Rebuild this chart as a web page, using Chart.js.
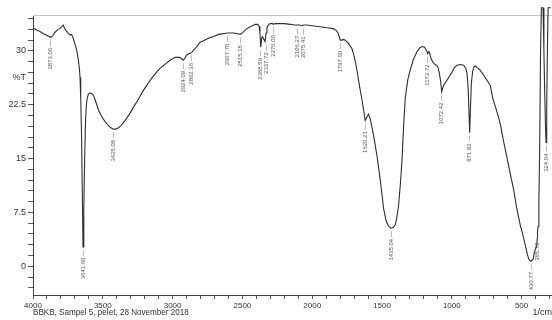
<!DOCTYPE html>
<html>
<head>
<meta charset="utf-8">
<script src="https://cdn.jsdelivr.net/npm/chart.js@4"></script>
<style>
  body { margin: 0; background: #fff; }
  #wrap { width: 552px; height: 320px; }
</style>
</head>
<body>
<div id="wrap"><canvas id="irChart"></canvas></div>
<script>
// FTIR spectrum, wavenumber (1/cm) vs %T
const wavenumbers = [
  4000, 3975, 3950, 3925, 3905, 3885, 3873.06, 3860, 3842, 3820, 3800, 3790, 3783, 3775, 3766, 3750,
  3735, 3723, 3711, 3700, 3692, 3683, 3675, 3668, 3663, 3658, 3652, 3646, 3641.6, 3636, 3630, 3624,
  3618, 3611, 3603, 3596, 3584, 3572, 3563, 3555, 3543, 3532, 3515, 3496, 3478, 3460, 3442, 3425.08,
  3405, 3388, 3370, 3353, 3330, 3305, 3280, 3256, 3230, 3209, 3185, 3161, 3125, 3089, 3050, 3018,
  2982, 2950, 2935, 2924.09, 2912, 2900, 2886, 2870, 2862.36, 2850, 2826, 2803, 2779, 2740, 2707, 2670,
  2636, 2607.7, 2587, 2560, 2535, 2515.18, 2500, 2485, 2468, 2440, 2408, 2390, 2380, 2374, 2368.59, 2362,
  2355, 2348, 2337.72, 2330, 2324, 2310, 2301, 2285, 2276, 2265, 2240, 2200, 2157, 2130, 2106.27, 2090,
  2075.41, 2060, 2038, 2000, 1960, 1920, 1880, 1850, 1830, 1815, 1805, 1797.6, 1787, 1775, 1763, 1751,
  1735, 1715, 1700, 1690, 1679, 1660, 1643, 1632, 1620.21, 1610, 1597, 1585, 1572, 1560, 1548, 1536,
  1524, 1512, 1500, 1488, 1470, 1453, 1435.04, 1420, 1404, 1392, 1381, 1368, 1356, 1345, 1333, 1315,
  1297, 1275, 1249, 1230, 1213, 1195, 1180, 1172.72, 1165, 1158, 1150, 1135, 1118, 1100, 1090, 1080,
  1072.42, 1062, 1050, 1035, 1022, 1000, 980, 962, 940, 915, 900, 890, 882, 876, 871.82, 866,
  860, 850, 840, 830, 819, 800, 785, 771, 755, 740, 723, 705, 687, 670, 652, 630,
  604, 580, 556, 538, 520, 508, 496, 484, 472, 460, 449, 440, 430.77, 423, 417, 408,
  400, 392, 387, 385.7, 382, 376, 370, 364, 358, 352, 346, 340, 334, 328, 324.04, 320,
  315, 310, 300, 290
];
const transmittance = [
  33.2, 32.9, 32.7, 32.4, 32.2, 32.0, 31.9, 32.1, 32.6, 33.0, 33.2, 33.5, 33.6, 33.2, 32.9, 32.5,
  32.2, 32.3, 31.7, 31.0, 30.5, 29.7, 28.7, 27.6, 26.3, 23.5, 18.0, 9.0, 2.7, 8.0, 15.0, 20.0,
  22.5, 23.5, 24.0, 24.1, 24.1, 23.9, 23.6, 23.2, 22.5, 21.8, 21.1, 20.5, 20.0, 19.6, 19.3, 19.1,
  19.1, 19.3, 19.6, 20.0, 20.6, 21.3, 22.2, 22.9, 23.8, 24.5, 25.2, 25.9, 26.8, 27.6, 28.2, 28.7,
  29.1, 29.1, 28.9, 28.7, 29.0, 29.4, 29.6, 29.7, 29.8, 30.1, 30.6, 31.2, 31.4, 31.8, 32.0, 32.3,
  32.4, 32.5, 32.5, 32.5, 32.4, 32.3, 32.5, 32.8, 33.1, 33.4, 33.7, 33.7, 33.4, 32.5, 30.5, 31.8,
  32.0, 31.7, 31.3, 32.5, 33.3, 33.7, 33.8, 33.8, 33.7, 33.8, 33.8, 33.8, 33.7, 33.6, 33.6, 33.6,
  33.5, 33.6, 33.6, 33.5, 33.4, 33.3, 33.2, 33.1, 32.9, 32.5, 31.9, 31.5, 31.5, 31.6, 31.5, 31.3,
  30.9, 30.3, 29.3, 28.4, 27.3, 25.0, 23.2, 21.8, 20.3, 20.7, 21.2, 20.6, 19.4, 18.2, 16.8, 15.4,
  13.7, 12.0, 10.0, 8.0, 6.3, 5.6, 5.3, 5.4, 5.8, 7.0, 8.5, 11.5, 15.0, 19.5, 23.5, 26.0,
  27.4, 28.8, 29.9, 30.4, 30.6, 30.5, 30.0, 29.6, 29.9, 29.7, 29.0, 28.4, 28.1, 27.8, 27.0, 25.8,
  24.3, 25.0, 25.5, 25.9, 26.3, 27.0, 27.7, 28.0, 28.1, 28.0, 27.6, 26.8, 24.5, 21.0, 18.6, 22.0,
  25.5, 27.2, 27.8, 27.9, 27.7, 27.4, 27.0, 26.6, 26.1, 25.7, 25.1, 23.3, 22.2, 21.1, 19.8, 17.5,
  15.1, 12.8, 10.6, 8.4, 6.7, 5.6, 4.8, 3.8, 2.8, 1.8, 1.0, 0.8, 0.7, 0.9, 1.0, 2.0,
  2.4, 2.8, 4.0, 4.8, 5.5, 9.0, 17.0, 30.0, 36.0, 36.0, 36.0, 30.0, 24.0, 19.0, 17.2, 22.0,
  30.0, 36.0, 36.0, 36.0
];
const peakLabels = [
  3873.06, 3641.60, 3425.08, 2924.09, 2862.36, 2607.70, 2515.18, 2368.59, 2337.72, 2276.00,
  2106.27, 2075.41, 1797.60, 1620.21, 1435.04, 1172.72, 1072.42, 871.82, 430.77, 385.70, 324.04
];
const xTickLabels = [4000, 3500, 3000, 2500, 2000, 1500, 1000, 500];
const yTickLabels = [0, 7.5, 15, 22.5, 30];

const FONT = "'Liberation Sans', Arial, sans-serif";
const INK = '#333';

function valueAt(wn) {
  for (let i = 0; i < wavenumbers.length - 1; i++) {
    const a = wavenumbers[i], b = wavenumbers[i + 1];
    if (wn <= a && wn >= b) {
      const t = (a - wn) / (a - b);
      return transmittance[i] + t * (transmittance[i + 1] - transmittance[i]);
    }
  }
  return transmittance[transmittance.length - 1];
}

const decorations = {
  id: 'decorations',
  beforeDatasetsDraw(chart) {
    const { ctx, chartArea } = chart;
    ctx.save();
    ctx.strokeStyle = '#c4c4c4';
    ctx.lineWidth = 1;
    ctx.beginPath();
    ctx.moveTo(chartArea.left, chartArea.top + 0.5);
    ctx.lineTo(chart.width, chartArea.top + 0.5);
    ctx.stroke();
    ctx.restore();
  },
  afterDatasetsDraw(chart) {
    const { ctx, scales: { x, y } } = chart;
    ctx.save();
    // peak labels, rotated, hanging under each peak
    ctx.fillStyle = '#555';
    ctx.font = '6px ' + FONT;
    ctx.textAlign = 'right';
    ctx.textBaseline = 'middle';
    let prev = -100;
    peakLabels.forEach(wn => {
      let px = x.getPixelForValue(wn);
      if (px - prev < 6) px = prev + 6;
      prev = px;
      const py = y.getPixelForValue(valueAt(wn)) + 3;
      ctx.save();
      ctx.translate(px, py);
      ctx.rotate(-Math.PI / 2);
      ctx.fillText(wn.toFixed(2) + ' \u2014', 0, 0);
      ctx.restore();
    });

    // axis captions
    ctx.fillStyle = INK;
    ctx.font = '9px ' + FONT;
    ctx.textBaseline = 'middle';
    ctx.textAlign = 'right';
    ctx.fillText('%T', 26, y.getPixelForValue(26.25));
    ctx.fillText('1/cm', chart.width, 313);
    // footer is printed a little narrow in the original
    ctx.save();
    ctx.translate(33, 313);
    ctx.scale(0.9, 1);
    ctx.textAlign = 'left';
    ctx.fillText('BBKB, Sampel 5, pelet, 28 November 2018', 0, 0);
    ctx.restore();
    ctx.restore();
  }
};

new Chart(document.getElementById('irChart'), {
  type: 'line',
  data: {
    datasets: [{
      data: wavenumbers.map((w, i) => ({ x: w, y: transmittance[i] })),
      borderColor: '#2e2e2e',
      borderWidth: 1.1,
      pointRadius: 0,
      tension: 0,
      fill: false,
      clip: false
    }]
  },
  options: {
    animation: false,
    responsive: true,
    maintainAspectRatio: false,
    layout: { padding: { top: 15, left: 0, right: 0, bottom: 0 } },
    plugins: { legend: { display: false }, tooltip: { enabled: false } },
    scales: {
      x: {
        type: 'linear',
        reverse: true,
        min: 282,
        max: 4000,
        afterBuildTicks: axis => {
          const t = [];
          for (let v = 300; v <= 4000; v += 100) t.push({ value: v });
          axis.ticks = t;
        },
        afterFit: axis => { axis.height = 25; },
        ticks: {
          autoSkip: false,
          maxRotation: 0,
          padding: 2,
          color: INK,
          font: { family: FONT, size: 8 },
          callback: v => xTickLabels.includes(v) ? String(v) : ''
        },
        grid: { drawOnChartArea: false, tickLength: 4, tickColor: '#555' },
        border: { color: '#444', width: 1 }
      },
      y: {
        min: -4,
        max: 35,
        afterBuildTicks: axis => {
          const t = [];
          for (let k = -2; k <= 23; k++) t.push({ value: k * 1.5 });
          axis.ticks = t;
        },
        afterFit: axis => { axis.width = 33; },
        ticks: {
          autoSkip: false,
          padding: 2,
          color: INK,
          font: { family: FONT, size: 9 },
          callback: v => {
            const hit = yTickLabels.find(l => Math.abs(l - v) < 1e-6);
            return hit === undefined ? '' : String(hit);
          }
        },
        grid: { drawOnChartArea: false, tickLength: 5, tickColor: '#555' },
        border: { color: '#444', width: 1 }
      }
    }
  },
  plugins: [decorations]
});
</script>
</body>
</html>
